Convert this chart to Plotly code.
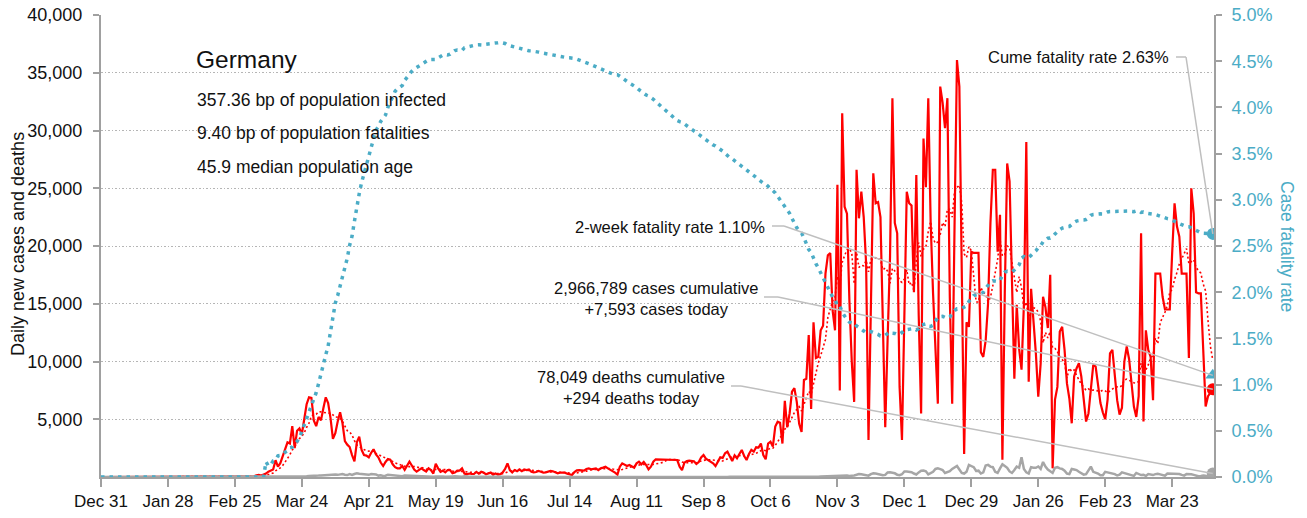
import numpy as np
import pandas as pd
import plotly.graph_objects as go

# ---------------- data ----------------
START_DATE = "2019-12-31"

CASES_2019_12 = [0]
CASES_2020_01 = [0] * 27 + [4, 0, 0, 1]
CASES_2020_02 = [3, 0, 0, 2, 0, 0, 1, 0, 0, 0, 1, 0, 0, 0, 0, 0, 0, 0, 0, 0, 0, 0, 0, 0, 0, 2, 10, 20, 40]
CASES_2020_03 = [60, 20, 30, 60, 150, 180, 130, 200, 300, 460, 550, 650, 1450, 900, 1200, 1750,
                 2300, 3000, 2900, 4400, 2500, 4000, 4200, 3700, 5000, 6300, 6900, 6850, 4900, 4400, 5200]
CASES_2020_04 = [4900, 5950, 6900, 6400, 5100, 3300, 3800, 4800, 5600, 4650, 3100, 2800, 2600, 1900, 1350,
                 3000, 3500, 2350, 1900, 1850, 1700, 2100, 2400, 1950, 1700, 1250, 950, 1300, 1550, 1500]
CASES_2020_05 = [1100, 850, 750, 750, 950, 620, 1050, 1330, 1000, 650, 460, 600, 750, 600, 480, 750,
                 600, 300, 1150, 750, 450, 550, 400, 600, 600, 320, 380, 550, 550, 750, 300]
CASES_2020_06 = [230, 300, 260, 260, 450, 300, 450, 380, 230, 300, 380, 200, 300, 200, 250, 400,
                 700, 1180, 600, 400, 600, 500, 650, 500, 650, 600, 660, 460, 400, 430]
CASES_2020_07 = [520, 460, 375, 400, 460, 520, 490, 400, 320, 375, 375, 375, 290, 260, 170, 430,
                 580, 600, 550, 550, 690, 750, 660, 720, 750, 600, 750, 810, 890, 750, 635]
CASES_2020_08 = [460, 375, 200, 890, 1180, 1100, 950, 1040, 890, 810, 1180, 1330, 1100, 1300, 1040, 660,
                 890, 1330, 1530, 1530, 1500, 1470, 1530, 1530, 1500, 1530, 1530, 1470, 890, 600, 1240]
CASES_2020_09 = [1390, 1410, 1410, 1360, 1130, 1300, 1700, 1900, 1590, 1470, 1360, 1180, 950, 1390, 1700,
                 1650, 2050, 2190, 1820, 1390, 1880, 1620, 1990, 2340, 1820, 1470, 1990, 2340, 2190, 2570]
CASES_2020_10 = [2540, 2900, 1900, 1530, 2900, 3060, 2630, 4360, 4790, 4700, 2900, 6600, 4300, 5500, 7400,
                 7700, 6500, 4600, 3900, 8400, 8500, 12300, 5900, 13400, 10300, 10400, 12700, 13100,
                 17600, 19200, 19400]
CASES_2020_11 = [14400, 12700, 25300, 7500, 31500, 23400, 22800, 15300, 10000, 6500, 26600, 22400, 24700,
                 22500, 18500, 3200, 14000, 26300, 23700, 23800, 22500, 12100, 4300, 12000, 19000, 32800,
                 22000, 21100, 7800, 3200]
CASES_2020_12 = [14000, 24700, 23700, 23500, 16000, 26150, 14000, 5500, 29300, 25100, 32800, 22000, 15900,
                 11000, 6350, 33800, 32400, 30200, 32800, 15600, 6350, 22000, 36100, 33800, 19400, 2000,
                 13400, 13000, 19500, 19400, 19400]
CASES_2021_01 = [19400, 10800, 10400, 11800, 15000, 22000, 26600, 26600, 19500, 22700, 1500, 16000, 27150,
                 25600, 18200, 8500, 14900, 11100, 9300, 15000, 29000, 8250, 16300, 13600, 10700, 6950,
                 9800, 15600, 14700, 12900, 17500]
CASES_2021_02 = [750, 6700, 7800, 12600, 13000, 11000, 8100, 6800, 4650, 8700, 9400, 9850, 8700, 6400,
                 4800, 5500, 7800, 9700, 9550, 8100, 6400, 5600, 5000, 6700, 10700, 11000, 9000, 6650]
CASES_2021_03 = [5400, 6000, 10000, 11300, 10200, 8100, 6100, 5200, 7000, 21100, 4800, 12700, 11000, 10400,
                 6650, 17600, 17600, 17600, 15600, 14500, 14500, 14500, 19400, 23700, 21700, 20800, 17600,
                 17600, 17600, 10300, 25000]
CASES_2021_04 = [22800, 16000, 15900, 15900, 11000, 6100, 7000, 7300, 7593]

DEATHS_2019_12 = [0]
DEATHS_2020_01 = [0] * 31
DEATHS_2020_02 = [0] * 29
DEATHS_2020_03 = [0, 0, 0, 0, 0, 0, 0, 0, 2, 0, 1, 2, 3, 4, 3, 5, 8, 10, 14, 15, 17, 21, 28, 40, 55, 65,
                  82, 80, 85, 95, 120]
DEATHS_2020_04 = [140, 157, 170, 180, 240, 235, 215, 185, 230, 250, 200, 170, 250, 180, 260, 330, 280, 250,
                  200, 170, 190, 260, 240, 220, 120, 140, 90, 110, 200, 170]
DEATHS_2020_05 = [150, 110, 80, 60, 70, 120, 110, 110, 100, 70, 50, 60, 70, 60, 55, 45, 32, 18, 50, 65, 55,
                  45, 32, 18, 42, 50, 55, 37, 28, 22, 70]
DEATHS_2020_06 = [25, 20, 32, 28, 24, 16, 12, 20, 28, 24, 20, 16, 20, 16, 20, 12, 15, 20, 14, 12, 10, 15,
                  18, 14, 12, 10, 15, 18, 14, 12]
DEATHS_2020_07 = [10, 8, 7, 12, 10, 7, 5, 8, 10, 8, 7, 6, 10, 10, 8, 6, 9, 10, 7, 5, 8, 9, 7, 6, 5, 8,
                  9, 10, 8, 6, 6]
DEATHS_2020_08 = [4, 3, 5, 6, 4, 3, 2, 5, 6, 4, 5, 3, 2, 4, 6, 5, 4, 3, 2, 5, 6, 4, 5, 3, 2, 4, 6, 5, 5,
                  5, 4]
DEATHS_2020_09 = [3, 5, 4, 4, 3, 2, 5, 6, 4, 3, 4, 2, 5, 6, 4, 5, 3, 2, 11, 10, 9, 8, 9, 7, 10, 11, 9, 10,
                  7, 9]
DEATHS_2020_10 = [13, 15, 17, 18, 21, 26, 27, 25, 24, 21, 8, 16, 18, 20, 15, 12, 5, 6, 8, 8, 6, 18, 15,
                  14, 21, 30, 45, 50, 55, 110, 100]
DEATHS_2020_11 = [80, 100, 100, 135, 145, 155, 125, 85, 90, 135, 195, 260, 240, 200, 140, 120, 250, 320,
                  300, 260, 190, 160, 180, 400, 410, 380, 320, 200, 160, 240]
DEATHS_2020_12 = [480, 470, 450, 420, 300, 220, 400, 550, 560, 500, 220, 320, 450, 700, 750, 680, 600, 350,
                  410, 500, 700, 850, 950, 650, 350, 300, 450, 1050, 950, 850, 530]
DEATHS_2021_01 = [550, 300, 400, 1000, 1050, 900, 850, 450, 350, 750, 1100, 950, 800, 480, 350, 600, 900,
                  800, 1700, 700, 400, 300, 850, 800, 800, 910, 700, 1300, 900, 650, 500]
DEATHS_2021_02 = [350, 800, 850, 750, 700, 550, 300, 250, 700, 650, 600, 450, 300, 210, 250, 550, 900, 450,
                  400, 300, 150, 150, 450, 400, 400, 350, 250, 130]
DEATHS_2021_03 = [200, 400, 330, 250, 220, 150, 100, 350, 250, 170, 200, 90, 260, 230, 170, 250, 280, 230,
                  170, 110, 300, 290, 270, 260, 230, 260, 180, 120, 250, 260, 240]
DEATHS_2021_04 = [180, 100, 60, 90, 130, 100, 90, 61, 294]

TWO_WEEK_CFR = 0.0110

Y_TICKS = [5000, 10000, 15000, 20000, 25000, 30000, 35000, 40000]
Y2_TICKS = [0, 0.005, 0.01, 0.015, 0.02, 0.025, 0.03, 0.035, 0.04, 0.045, 0.05]

TITLE = "Germany"
STATS = ["357.36 bp of population infected",
         "9.40 bp of population fatalities",
         "45.9 median population age"]
CUME_LABEL = "Cume fatality rate 2.63%"
TWO_WEEK_LABEL = "2-week fatality rate 1.10%"
CASES_LABEL = "2,966,789 cases cumulative<br>+7,593 cases today"
DEATHS_LABEL = "78,049 deaths cumulative<br>+294 deaths today"
LEFT_TITLE = "Daily new cases and deaths"
RIGHT_TITLE = "Case fatality rate"

# ---------------- derived series ----------------
cases = np.array(CASES_2019_12 + CASES_2020_01 + CASES_2020_02 + CASES_2020_03 + CASES_2020_04 +
                 CASES_2020_05 + CASES_2020_06 + CASES_2020_07 + CASES_2020_08 + CASES_2020_09 +
                 CASES_2020_10 + CASES_2020_11 + CASES_2020_12 + CASES_2021_01 + CASES_2021_02 +
                 CASES_2021_03 + CASES_2021_04, dtype=float)
deaths = np.array(DEATHS_2019_12 + DEATHS_2020_01 + DEATHS_2020_02 + DEATHS_2020_03 + DEATHS_2020_04 +
                  DEATHS_2020_05 + DEATHS_2020_06 + DEATHS_2020_07 + DEATHS_2020_08 + DEATHS_2020_09 +
                  DEATHS_2020_10 + DEATHS_2020_11 + DEATHS_2020_12 + DEATHS_2021_01 + DEATHS_2021_02 +
                  DEATHS_2021_03 + DEATHS_2021_04, dtype=float)
dates = pd.date_range(START_DATE, periods=len(cases), freq="D")
avg7 = pd.Series(cases).rolling(7, min_periods=1).mean().values
cum_c = np.cumsum(cases)
cum_d = np.cumsum(deaths)
cfr = np.where(cum_c > 0, cum_d / np.maximum(cum_c, 1), 0.0)

# ---------------- styling ----------------
FONT = "Liberation Sans, Arial, sans-serif"
RED = "#FF0000"
BLUE = "#4BACC6"
GREY = "#A6A6A6"
AXIS = "#A0A0A0"
LEADER = "#BFBFBF"
TXT = "#111111"

W, H = 1307, 518
L, R, T, B = 101, 93, 15, 41
PW, PH = W - L - R, H - T - B
x_end = dates[-1] + pd.Timedelta(hours=12)
span_days = (x_end - dates[0]) / pd.Timedelta(days=1)


def paper(px, py):
    return (px - L) / PW, (T + PH - py) / PH


def px_date(px):
    return (dates[0] + pd.Timedelta(days=(px - L) / PW * span_days)).isoformat()


def py_y(py):
    return (T + PH - py) / PH * 40000


def py_y2(py):
    return (T + PH - py) / PH * 0.05


fig = go.Figure()
fig.add_trace(go.Scatter(x=dates, y=cases, mode="lines", line=dict(color=RED, width=2.2), yaxis="y"))
fig.add_trace(go.Scatter(x=dates, y=avg7, mode="lines",
                         line=dict(color=RED, width=1.6, dash="2px,2.5px"), yaxis="y"))
fig.add_trace(go.Scatter(x=dates, y=deaths, mode="lines", line=dict(color=GREY, width=2.5), yaxis="y"))
fig.add_trace(go.Scatter(x=dates, y=cfr, mode="lines",
                         line=dict(color=BLUE, width=3.5, dash="3.5px,5px"), yaxis="y2"))

# end markers
fig.add_trace(go.Scatter(x=[dates[-1]], y=[cases[-1]], mode="markers",
                         marker=dict(color=RED, size=12), yaxis="y"))
fig.add_trace(go.Scatter(x=[dates[-1]], y=[deaths[-1]], mode="markers",
                         marker=dict(color=GREY, size=12), yaxis="y"))
fig.add_trace(go.Scatter(x=[dates[-1]], y=[cfr[-1]], mode="markers",
                         marker=dict(color=BLUE, size=12), yaxis="y2"))
fig.add_trace(go.Scatter(x=[dates[-1]], y=[TWO_WEEK_CFR], mode="markers",
                         marker=dict(color=BLUE, size=13, symbol="triangle-up"), yaxis="y2"))

# leader lines: short horizontal elbow then diagonal to the end point
shapes = []


def leader(px0, px1, py, yref, end_y):
    conv = py_y if yref == "y" else py_y2
    y0 = conv(py)
    shapes.append(dict(type="line", xref="x", yref=yref, x0=px_date(px0), x1=px_date(px1), y0=y0, y1=y0,
                       line=dict(color=LEADER, width=1.5), layer="above"))
    shapes.append(dict(type="line", xref="x", yref=yref, x0=px_date(px1), x1=dates[-1].isoformat(),
                       y0=y0, y1=end_y, line=dict(color=LEADER, width=1.5), layer="above"))


leader(1176, 1186, 57, "y2", cfr[-1])
leader(772, 784, 226, "y2", TWO_WEEK_CFR)
leader(764, 778, 297, "y", cases[-1])
leader(731, 741, 386, "y", deaths[-1])

annotations = []


def note(text, px, py, xanchor="left", size=17, color=TXT, align="left", angle=0):
    x, y = paper(px, py)
    annotations.append(dict(text=text, x=x, y=y, xref="paper", yref="paper", xanchor=xanchor,
                            yanchor="middle", showarrow=False, align=align, textangle=angle,
                            font=dict(family=FONT, size=size, color=color)))


note(TITLE, 194, 59, size=24.5)
for txt, yy in zip(STATS, [100, 133, 167]):
    note(txt, 195, yy, size=17.5)
note(CUME_LABEL, 1171, 57, xanchor="right", size=16.5)
note(TWO_WEEK_LABEL, 767, 227, xanchor="right", size=16.5)
note(CASES_LABEL, 656, 298, xanchor="center", align="center", size=16.5)
note(DEATHS_LABEL, 631, 387, xanchor="center", align="center", size=16.5)
note(LEFT_TITLE, 18, 244, xanchor="center", angle=-90, size=18)
note(RIGHT_TITLE, 1287, 246, xanchor="center", angle=90, color=BLUE, size=17.5)

fig.update_layout(
    width=W, height=H, margin=dict(l=L, r=R, t=T, b=B, pad=0, autoexpand=False),
    paper_bgcolor="white", plot_bgcolor="white", showlegend=False,
    font=dict(family=FONT, size=17, color=TXT),
    xaxis=dict(type="date", range=[dates[0], x_end], tick0=dates[0], dtick=28 * 86400000,
               tickformat="%b %-d", ticks="outside", ticklen=8, tickwidth=1.5, tickcolor=AXIS,
               showline=True, linecolor=AXIS, linewidth=2, showgrid=False, zeroline=False,
               automargin=False, tickfont=dict(size=17, color=TXT)),
    yaxis=dict(range=[0, 40000], tickvals=Y_TICKS, tickformat=",", ticks="outside", ticklen=6,
               tickwidth=1.5, tickcolor=AXIS, showline=True, linecolor=AXIS, linewidth=2,
               showgrid=True, gridcolor="#B5B5B5", griddash="1.5px,2px", gridwidth=1, zeroline=False,
               automargin=False, tickfont=dict(size=18, color=TXT), ticklabelstandoff=7),
    yaxis2=dict(range=[0, 0.05], overlaying="y", side="right", tickvals=Y2_TICKS, tickformat=".1%",
                ticks="outside", ticklen=6, tickwidth=1.5, tickcolor=AXIS, showline=True,
                linecolor=AXIS, linewidth=2, showgrid=False, zeroline=False, automargin=False,
                tickfont=dict(size=18, color=BLUE), ticklabelstandoff=6),
    shapes=shapes, annotations=annotations,
)

fig.write_html("out.html", config={"displayModeBar": False},
               post_script="document.body.style.margin='0px';")
